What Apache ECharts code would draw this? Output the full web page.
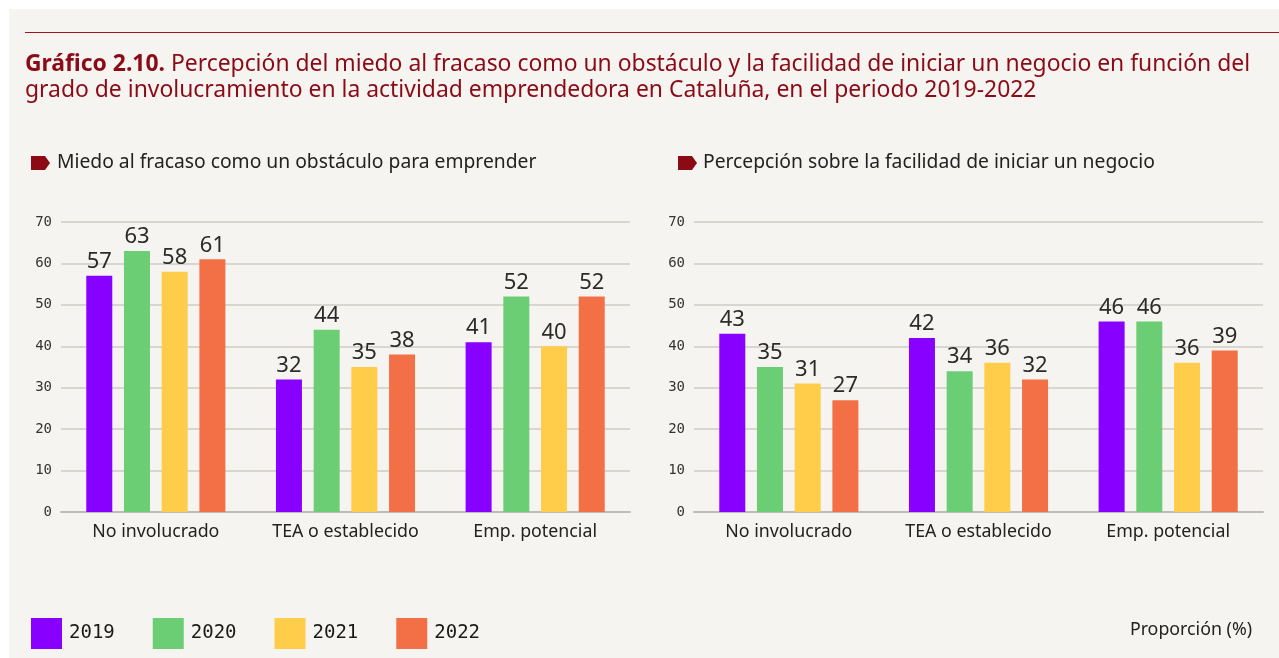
<!DOCTYPE html>
<html>
<head>
<meta charset="utf-8">
<script src="https://cdn.jsdelivr.net/npm/echarts@6/dist/echarts.min.js"></script>
<style>
  html, body { margin: 0; padding: 0; background: #ffffff; }
  #chart { width: 1279px; height: 658px; }
</style>
</head>
<body>
<div id="chart"></div>
<script type="text/javascript">
	// datos
	var categories = ['No involucrado', 'TEA o establecido', 'Emp. potencial'];
	var years = ['2019', '2020', '2021', '2022'];
	var yearColors = ['#8800ff', '#6bce74', '#ffcd4a', '#f37047'];
	// Miedo al fracaso como un obstáculo para emprender
	var miedo2019 = [57, 32, 41];
	var miedo2020 = [63, 44, 52];
	var miedo2021 = [58, 35, 40];
	var miedo2022 = [61, 38, 52];
	// Percepción sobre la facilidad de iniciar un negocio
	var facil2019 = [43, 42, 46];
	var facil2020 = [35, 34, 46];
	var facil2021 = [31, 36, 36];
	var facil2022 = [27, 32, 39];
	var yTicks = [0, 10, 20, 30, 40, 50, 60, 70];

	var miedo = [miedo2019, miedo2020, miedo2021, miedo2022];
	var facil = [facil2019, facil2020, facil2021, facil2022];

	var monoFont = '"DejaVu Sans Mono", monospace';
	var sansFont = '"Noto Sans", sans-serif';

	function makeSeries(sets, idx) {
		return sets.map(function (vals, i) {
			return {
				name : years[i],
				type : 'bar',
				xAxisIndex : idx,
				yAxisIndex : idx,
				data : vals,
				barWidth : 26,
				barGap : '45%',
				itemStyle : { color : yearColors[i] },
				label : {
					show : true,
					position : 'top',
					distance : 3,
					color : '#2b2b2b',
					fontSize : 22,
					fontFamily : sansFont
				}
			};
		});
	}

	function xAxis(idx) {
		return {
			type : 'category',
			gridIndex : idx,
			data : categories,
			axisTick : { show : false },
			axisLine : { lineStyle : { color : '#bdbbb5', width : 2 } },
			axisLabel : { interval : 0, color : '#222', fontSize : 17.8, fontFamily : sansFont, margin : 11 }
		};
	}
	function yAxis(idx) {
		return {
			type : 'value',
			gridIndex : idx,
			min : yTicks[0],
			max : yTicks[yTicks.length - 1],
			interval : 10,
			axisLine : { show : false },
			axisTick : { show : false },
			splitLine : { lineStyle : { color : '#cfcdc7', width : 1.5 } },
			axisLabel : { color : '#333', fontSize : 14, fontFamily : monoFont, margin : 9, padding : [8, 0, 0, 0] }
		};
	}

	var option = {
		backgroundColor : '#ffffff',
		animation : false,
		graphic : [
			{ type : 'rect', left : 9, top : 9, shape : { width : 1270, height : 649 }, style : { fill : '#f5f4f0' }, z : -10 },
			{ type : 'rect', shape : { x : 25, y : 32, width : 1254, height : 1 }, style : { fill : '#a3141f' } },
			{ type : 'polygon', shape : { points : [[31, 156], [45, 156], [50, 163], [45, 170], [31, 170]] }, style : { fill : '#8b0a16' } },
			{ type : 'polygon', shape : { points : [[678, 156], [692, 156], [697, 163], [692, 170], [678, 170]] }, style : { fill : '#8b0a16' } },
			{ type : 'text', left : 57, top : 153, style : { text : 'Miedo al fracaso como un obstáculo para emprender', fill : '#222', font : '19.3px "Noto Sans", sans-serif' } },
			{ type : 'text', left : 703, top : 153, style : { text : 'Percepción sobre la facilidad de iniciar un negocio', fill : '#222', font : '19.3px "Noto Sans", sans-serif' } },
			{ type : 'text', right : 27, top : 621, style : { text : 'Proporción (%)', fill : '#222', font : '17.8px "Noto Sans", sans-serif' } }
		],
		title : {
			left : 20,
			top : 46,
			text : '{b|Gráfico 2.10.} Percepción del miedo al fracaso como un obstáculo y la facilidad de iniciar un negocio en función del\ngrado de involucramiento en la actividad emprendedora en Cataluña, en el periodo 2019-2022',
			textStyle : {
				color : '#8b0a16',
				fontSize : 22.9,
				fontFamily : sansFont,
				fontWeight : 'normal',
				lineHeight : 26,
				rich : {
					b : { fontWeight : 'bold', fontSize : 22.9, color : '#8b0a16', fontFamily : sansFont, lineHeight : 26 }
				}
			}
		},
		legend : {
			left : 26,
			top : 613,
			icon : 'rect',
			itemWidth : 31,
			itemHeight : 31,
			itemGap : 38,
			data : years,
			textStyle : { color : '#1a1a1a', fontSize : 19, fontFamily : monoFont, padding : [0, 0, 0, 2] }
		},
		grid : [
			{ left : 61, width : 569, top : 222, bottom : 146, containLabel : false },
			{ left : 694, width : 569, top : 222, bottom : 146, containLabel : false }
		],
		xAxis : [ xAxis(0), xAxis(1) ],
		yAxis : [ yAxis(0), yAxis(1) ],
		series : makeSeries(miedo, 0).concat(makeSeries(facil, 1))
	};

	var chart = echarts.init(document.getElementById('chart'));
	chart.setOption(option);
</script>
</body>
</html>
